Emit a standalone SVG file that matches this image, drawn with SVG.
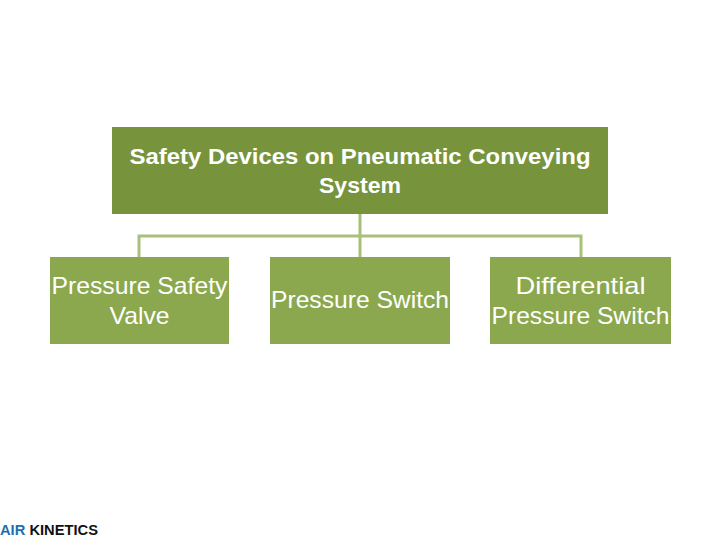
<svg xmlns="http://www.w3.org/2000/svg" width="720" height="540" viewBox="0 0 720 540">
<style>
.top{fill:#77933C}
.child{fill:#8BA84F}
.conn{fill:none;stroke:#A9C07A;stroke-width:3}
.t{font-family:"Liberation Sans",Arial,sans-serif;fill:#fff;text-anchor:middle}
.tb{font-weight:bold;font-size:22px}
.tc{font-size:24px}
.logo{font-family:"Liberation Sans",Arial,sans-serif;font-weight:bold;font-size:14px}
</style>
<rect width="720" height="540" fill="#fff"/>
<g id="connectors">
<path class="conn" d="M360 214V236M139 257V236H581V257M360 236V257"/>
</g>
<g id="root">
<rect class="top" x="112" y="127" width="496" height="87"/>
<text class="t tb" x="360" y="164" textLength="461" lengthAdjust="spacingAndGlyphs">Safety Devices on Pneumatic Conveying</text>
<text class="t tb" x="360" y="193" textLength="82" lengthAdjust="spacingAndGlyphs">System</text>
</g>
<g id="n1">
<rect class="child" x="50" y="257" width="179" height="87"/>
<text class="t tc" x="139.5" y="294" textLength="176" lengthAdjust="spacingAndGlyphs">Pressure Safety</text>
<text class="t tc" x="139.5" y="324" textLength="60" lengthAdjust="spacingAndGlyphs">Valve</text>
</g>
<g id="n2">
<rect class="child" x="270" y="257" width="180" height="87"/>
<text class="t tc" x="360" y="308" textLength="178" lengthAdjust="spacingAndGlyphs">Pressure Switch</text>
</g>
<g id="n3">
<rect class="child" x="490" y="257" width="181" height="87"/>
<text class="t tc" x="580.5" y="294" textLength="130" lengthAdjust="spacingAndGlyphs">Differential</text>
<text class="t tc" x="580.5" y="324" textLength="178" lengthAdjust="spacingAndGlyphs">Pressure Switch</text>
</g>
<g id="logo">
<text class="logo" x="0" y="535" textLength="98" lengthAdjust="spacingAndGlyphs"><tspan fill="#1F6FB0">AIR</tspan><tspan fill="#111"> KINETICS</tspan></text>
</g>
</svg>
